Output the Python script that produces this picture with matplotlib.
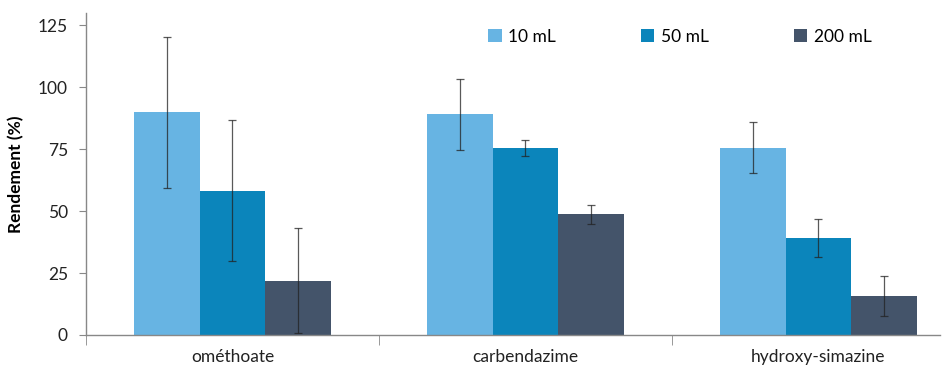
import numpy as np
import matplotlib.pyplot as plt

# data
categories = ["ométhoate", "carbendazime", "hydroxy-simazine"]
series = ["10 mL", "50 mL", "200 mL"]
means = {
    "10 mL": [90.0, 89.1, 75.7],
    "50 mL": [58.3, 75.4, 39.0],
    "200 mL": [21.9, 48.7, 15.7],
}
errors = {
    "10 mL": [30.5, 14.3, 10.3],
    "50 mL": [28.5, 3.3, 7.7],
    "200 mL": [21.2, 3.7, 8.1],
}
colors = {"10 mL": "#67b4e3", "50 mL": "#0b85bb", "200 mL": "#44546a"}

plt.rcParams['font.family'] = ['Lato', 'DejaVu Sans']
plt.rcParams['font.size'] = 12.5

fig = plt.figure(figsize=(9.5, 3.7), dpi=100)
ax = fig.add_axes([0.0905, 0.0946, 0.899, 0.870])

x = np.arange(len(categories))
width = 0.2236
for i, s in enumerate(series):
    ax.bar(x + (i - 1) * width, means[s], width, color=colors[s], label=s,
           yerr=errors[s], capsize=3,
           error_kw=dict(ecolor='#222222', elinewidth=0.9, capthick=0.9, alpha=0.75))

ax.set_xlim(-0.5, 2.415)
ax.set_ylim(0, 130)
ax.set_yticks([0, 25, 50, 75, 100, 125])
ax.set_xticks(x)
ax.set_xticklabels(categories, color='#222222')
ax.set_xticks([-0.5, 0.5, 1.5], minor=True)
ax.tick_params(axis='x', which='major', length=0, pad=10)
ax.tick_params(axis='x', which='minor', length=7, color='#888888')
ax.tick_params(axis='y', length=5, color='#888888', labelcolor='#222222', pad=8)

for side in ['top', 'right']:
    ax.spines[side].set_visible(False)
for side in ['left', 'bottom']:
    ax.spines[side].set_color('#888888')
    ax.spines[side].set_linewidth(1)

ax.set_ylabel("Rendement (%)", fontweight='bold', fontsize=12.5, labelpad=10)

ax.legend(loc='upper left', bbox_to_anchor=(0.453, 1.0), ncol=3, frameon=False,
          handlelength=0.75, handleheight=0.75, handletextpad=0.4,
          columnspacing=4.9, fontsize=12.5)

fig.savefig("out.png", dpi=100)
